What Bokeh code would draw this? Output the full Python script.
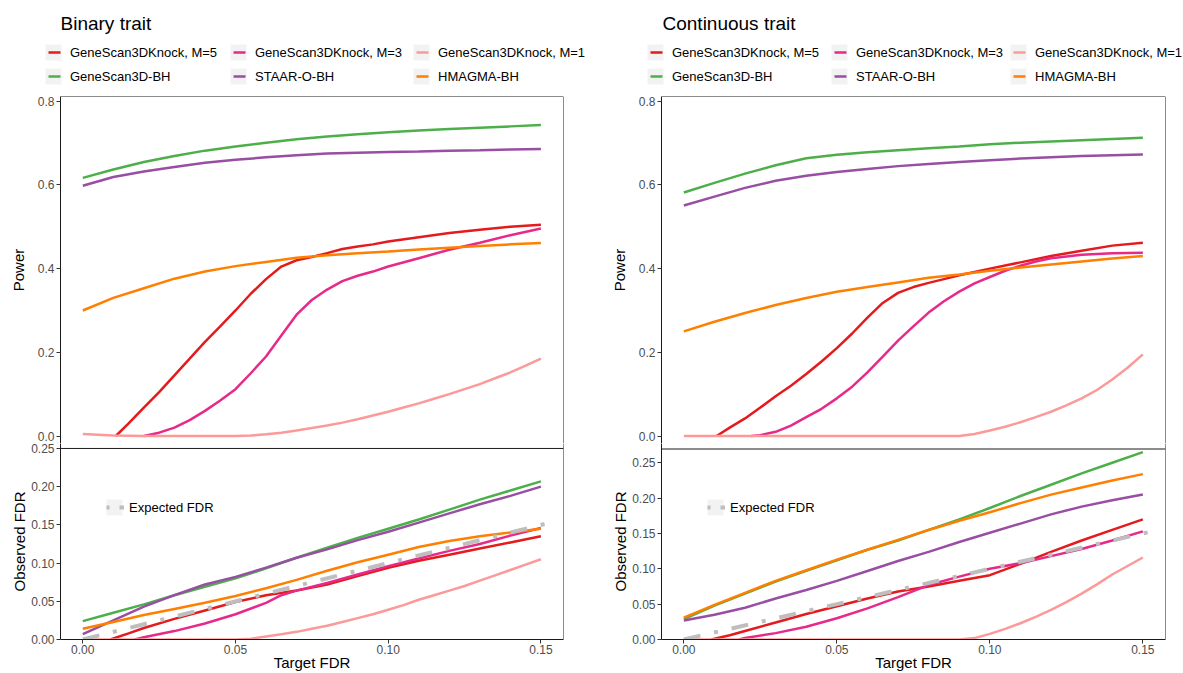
from bokeh.plotting import figure
from bokeh.layouts import row, column
from bokeh.models import (Range1d, Span, Legend, LegendItem, FixedTicker,
                          NumeralTickFormatter, Label)
from bokeh.core.properties import value
from bokeh.embed import file_html
from bokeh.resources import INLINE

FONT = "Liberation Sans"

# ---------------- data ----------------
fdr_grid = [0.00, 0.01, 0.02, 0.03, 0.04, 0.05, 0.06, 0.07, 0.08, 0.09, 0.10, 0.11, 0.12, 0.13, 0.14, 0.15]

# Binary trait: power
bin_pow_m5_x = [0.0108, 0.015, 0.02, 0.025, 0.03, 0.035, 0.04, 0.045, 0.05, 0.055, 0.06, 0.065, 0.07, 0.075,
                0.08, 0.085, 0.09, 0.095, 0.10, 0.11, 0.12, 0.13, 0.14, 0.15]
bin_pow_m5 = [0.0, 0.03, 0.068, 0.105, 0.145, 0.185, 0.225, 0.262, 0.300, 0.340, 0.375, 0.405, 0.420, 0.428,
              0.437, 0.447, 0.453, 0.458, 0.465, 0.475, 0.485, 0.493, 0.500, 0.505]
bin_pow_m3_x = [0.02, 0.025, 0.03, 0.035, 0.04, 0.045, 0.05, 0.055, 0.06, 0.065, 0.07, 0.075, 0.08, 0.085,
                0.09, 0.095, 0.10, 0.11, 0.12, 0.13, 0.14, 0.15]
bin_pow_m3 = [0.0, 0.008, 0.02, 0.038, 0.06, 0.085, 0.112, 0.15, 0.19, 0.24, 0.29, 0.325, 0.35, 0.37,
              0.383, 0.393, 0.405, 0.425, 0.445, 0.462, 0.48, 0.496]
bin_pow_m1_x = [0.0, 0.01, 0.02, 0.03, 0.04, 0.05, 0.055, 0.06, 0.065, 0.07, 0.075, 0.08, 0.085, 0.09, 0.095,
                0.10, 0.105, 0.11, 0.115, 0.12, 0.125, 0.13, 0.135, 0.14, 0.145, 0.15]
bin_pow_m1 = [0.005, 0.001, 0.0, 0.0, 0.0, 0.0, 0.001, 0.004, 0.008, 0.013, 0.019, 0.025, 0.032, 0.040, 0.049,
              0.058, 0.068, 0.078, 0.089, 0.100, 0.112, 0.124, 0.138, 0.152, 0.168, 0.185]
bin_pow_gs3d = [0.617, 0.637, 0.655, 0.669, 0.682, 0.692, 0.701, 0.709, 0.716, 0.721, 0.726, 0.730, 0.734, 0.737, 0.740, 0.743]
bin_pow_staar = [0.598, 0.619, 0.632, 0.643, 0.653, 0.660, 0.666, 0.671, 0.675, 0.677, 0.679, 0.680, 0.682, 0.683, 0.685, 0.686]
bin_pow_hmagma = [0.300, 0.330, 0.353, 0.376, 0.393, 0.406, 0.416, 0.426, 0.432, 0.437, 0.441, 0.446, 0.450, 0.454, 0.458, 0.461]

# Binary trait: observed FDR
bin_fdr_m5_x = [0.009, 0.015, 0.02, 0.03, 0.04, 0.05, 0.06, 0.07, 0.08, 0.09, 0.10, 0.11, 0.12, 0.13, 0.14, 0.15]
bin_fdr_m5 = [0.0, 0.008, 0.015, 0.027, 0.038, 0.049, 0.058, 0.064, 0.072, 0.083, 0.094, 0.103, 0.111, 0.119, 0.127, 0.135]
bin_fdr_m3_x = [0.017, 0.02, 0.03, 0.04, 0.05, 0.06, 0.065, 0.07, 0.08, 0.09, 0.10, 0.11, 0.12, 0.13, 0.14, 0.15]
bin_fdr_m3 = [0.0, 0.003, 0.011, 0.021, 0.033, 0.048, 0.058, 0.064, 0.074, 0.085, 0.096, 0.106, 0.116, 0.125, 0.136, 0.146]
bin_fdr_m1_x = [0.0, 0.05, 0.055, 0.06, 0.065, 0.07, 0.075, 0.08, 0.085, 0.09, 0.095, 0.10, 0.105, 0.11,
                0.115, 0.12, 0.125, 0.13, 0.135, 0.14, 0.145, 0.15]
bin_fdr_m1 = [0.0, 0.0, 0.001, 0.004, 0.007, 0.010, 0.014, 0.018, 0.023, 0.028, 0.033, 0.039, 0.045, 0.052,
              0.058, 0.064, 0.070, 0.077, 0.084, 0.091, 0.098, 0.105]
bin_fdr_gs3d = [0.024, 0.035, 0.046, 0.058, 0.069, 0.080, 0.093, 0.107, 0.120, 0.133, 0.145, 0.157, 0.170, 0.183, 0.195, 0.207]
bin_fdr_staar = [0.007, 0.025, 0.043, 0.058, 0.072, 0.082, 0.094, 0.107, 0.118, 0.130, 0.141, 0.153, 0.165, 0.177, 0.188, 0.200]
bin_fdr_hmagma = [0.014, 0.023, 0.032, 0.040, 0.048, 0.057, 0.067, 0.078, 0.090, 0.101, 0.111, 0.121, 0.129, 0.135, 0.140, 0.145]

# Continuous trait: power
con_pow_m5_x = [0.0107, 0.015, 0.02, 0.025, 0.03, 0.035, 0.04, 0.045, 0.05, 0.055, 0.06, 0.065, 0.07, 0.075,
                0.08, 0.085, 0.09, 0.095, 0.10, 0.11, 0.12, 0.13, 0.14, 0.15]
con_pow_m5 = [0.0, 0.02, 0.042, 0.068, 0.095, 0.12, 0.148, 0.178, 0.21, 0.245, 0.283, 0.318, 0.342, 0.356,
              0.366, 0.375, 0.384, 0.392, 0.400, 0.415, 0.430, 0.443, 0.455, 0.462]
con_pow_m3_x = [0.022, 0.025, 0.03, 0.035, 0.04, 0.045, 0.05, 0.055, 0.06, 0.065, 0.07, 0.075, 0.08, 0.085,
                0.09, 0.095, 0.10, 0.105, 0.11, 0.115, 0.12, 0.13, 0.14, 0.15]
con_pow_m3 = [0.0, 0.002, 0.01, 0.025, 0.045, 0.065, 0.09, 0.118, 0.152, 0.19, 0.228, 0.262, 0.295, 0.322,
              0.345, 0.365, 0.38, 0.395, 0.407, 0.417, 0.425, 0.433, 0.437, 0.438]
con_pow_m1_x = [0.0, 0.09, 0.095, 0.10, 0.105, 0.11, 0.115, 0.12, 0.125, 0.13, 0.135, 0.14, 0.145, 0.15]
con_pow_m1 = [0.0, 0.0, 0.005, 0.013, 0.022, 0.033, 0.045, 0.058, 0.073, 0.09, 0.11, 0.135, 0.163, 0.195]
con_pow_gs3d = [0.582, 0.605, 0.627, 0.647, 0.664, 0.672, 0.678, 0.683, 0.688, 0.692, 0.697, 0.701, 0.704, 0.707, 0.710, 0.713]
con_pow_staar = [0.551, 0.572, 0.593, 0.610, 0.622, 0.631, 0.638, 0.645, 0.650, 0.655, 0.659, 0.663, 0.666, 0.669, 0.671, 0.673]
con_pow_hmagma = [0.250, 0.273, 0.294, 0.313, 0.330, 0.345, 0.356, 0.367, 0.378, 0.386, 0.395, 0.403, 0.410, 0.417, 0.424, 0.430]

# Continuous trait: observed FDR
con_fdr_m5_x = [0.009, 0.015, 0.02, 0.03, 0.04, 0.05, 0.06, 0.07, 0.08, 0.09, 0.10, 0.11, 0.12, 0.13, 0.14, 0.15]
con_fdr_m5 = [0.0, 0.006, 0.012, 0.024, 0.036, 0.047, 0.058, 0.068, 0.075, 0.083, 0.091, 0.107, 0.124, 0.140, 0.155, 0.170]
con_fdr_m3_x = [0.018, 0.02, 0.03, 0.04, 0.05, 0.06, 0.07, 0.08, 0.09, 0.10, 0.11, 0.12, 0.13, 0.14, 0.15]
con_fdr_m3 = [0.0, 0.002, 0.009, 0.018, 0.030, 0.044, 0.060, 0.077, 0.089, 0.100, 0.108, 0.118, 0.128, 0.140, 0.153]
con_fdr_m1_x = [0.0, 0.09, 0.095, 0.10, 0.105, 0.11, 0.115, 0.12, 0.125, 0.13, 0.135, 0.14, 0.145, 0.15]
con_fdr_m1 = [0.0, 0.0, 0.002, 0.008, 0.015, 0.023, 0.032, 0.042, 0.053, 0.065, 0.078, 0.092, 0.104, 0.116]
con_fdr_gs3d = [0.029, 0.048, 0.065, 0.082, 0.097, 0.112, 0.127, 0.140, 0.155, 0.170, 0.186, 0.203, 0.219, 0.235, 0.250, 0.265]
con_fdr_staar = [0.027, 0.035, 0.045, 0.058, 0.070, 0.083, 0.097, 0.111, 0.124, 0.138, 0.151, 0.164, 0.177, 0.188, 0.197, 0.205]
con_fdr_hmagma = [0.031, 0.049, 0.066, 0.083, 0.098, 0.113, 0.127, 0.141, 0.155, 0.168, 0.180, 0.193, 0.205, 0.215, 0.225, 0.234]

# Expected FDR reference line (observed = target)
expected_x = [0.0, 0.155]
expected_y = [0.0, 0.155]

method_labels = ["GeneScan3DKnock, M=5", "GeneScan3DKnock, M=3", "GeneScan3DKnock, M=1",
                 "GeneScan3D-BH", "STAAR-O-BH", "HMAGMA-BH"]
method_colors = ["#E41A1C", "#E7298A", "#FB9A99", "#4DAF4A", "#984EA3", "#FF7F00"]
panel_titles = ["Binary trait", "Continuous trait"]

power_ticks = [0.0, 0.2, 0.4, 0.6, 0.8]
fdr_ticks = [0.0, 0.05, 0.10, 0.15, 0.20, 0.25]
target_ticks = [0.0, 0.05, 0.10, 0.15]

# ---------------- styling helpers ----------------
X_RANGE = (-0.0073, 0.1574)
POWER_RANGE = (-0.0179, 0.8114)
LINE_W = 2.5
BORDER = "#1A1A1A"
KEY_BG = "#F2F2F2"
PAGE_W = 1183
HEADER_H = 90


def style_axis(ax, label, ticks, fmt, label_standoff):
    ax.axis_label = label
    ax.axis_label_text_font = FONT
    ax.axis_label_text_font_size = "15px"
    ax.axis_label_text_font_style = "normal"
    ax.axis_label_text_color = "#000000"
    ax.axis_label_standoff = label_standoff
    ax.major_label_text_font = FONT
    ax.major_label_text_font_size = "12px"
    ax.major_label_text_color = "#4D4D4D"
    ax.major_label_standoff = 2
    ax.major_tick_out = 4
    ax.major_tick_in = 0
    ax.minor_tick_out = 0
    ax.minor_tick_in = 0
    ax.major_tick_line_color = "#333333"
    ax.axis_line_color = BORDER
    ax.ticker = FixedTicker(ticks=ticks)
    ax.formatter = NumeralTickFormatter(format=fmt)


def make_legend(fig, entries, vx, vy, standoff=7):
    # each key: light grey square with a short coloured stroke on top
    bg = fig.quad(left=[-1], right=[-1], top=[-1], bottom=[-1], fill_color=KEY_BG, line_color=None)
    items = []
    for label, color, width, dash in entries:
        proxy = fig.line(x=[-1, -1], y=[-1, -1], line_color=color, line_width=width, line_dash=dash)
        items.append(LegendItem(label=value(label), renderers=[bg, proxy]))
    leg = Legend(items=items, location=(vx, vy), orientation="vertical",
                 glyph_width=20, glyph_height=20, label_height=20, label_standoff=standoff,
                 spacing=4, padding=0, margin=0, border_line_color=None,
                 background_fill_alpha=0, label_text_font=FONT,
                 label_text_font_size="13px", label_text_color="#000000")
    fig.add_layout(leg)


def make_header():
    # strip across the page holding both panel titles and method legends
    head = figure(width=PAGE_W, height=HEADER_H, min_border=0,
                  x_range=Range1d(0, PAGE_W), y_range=Range1d(HEADER_H, 0),
                  x_axis_location=None, y_axis_location=None,
                  output_backend="svg", toolbar_location=None)
    head.outline_line_color = None
    head.grid.visible = False
    key_dash = "0 5 12 100"
    for title, tx, key_x in zip(panel_titles, [60, 662], [[43, 228, 411], [645, 829, 1008]]):
        head.add_layout(Label(x=tx, y=23, text=title, text_font=FONT, text_font_size="19px",
                              text_color="#000000", text_baseline="middle", text_align="left"))
        for (a, b), vx in zip([(0, 3), (1, 4), (2, 5)], key_x):
            make_legend(head, [(method_labels[a], method_colors[a], LINE_W, key_dash),
                               (method_labels[b], method_colors[b], LINE_W, key_dash)], vx, 4)
    return head


def make_panel(pow_series, fdr_series, fdr_end, fdr_div, frame_w, right_border):
    # ----- power (upper plot) -----
    top = figure(frame_width=frame_w, frame_height=347, min_border_left=60,
                 min_border_right=right_border, min_border_top=6, min_border_bottom=0,
                 x_range=Range1d(*X_RANGE), y_range=Range1d(*POWER_RANGE),
                 x_axis_location=None, output_backend="svg", toolbar_location=None)
    top.outline_line_color = None
    top.xgrid.visible = False
    top.ygrid.visible = False
    style_axis(top.yaxis[0], "Power", power_ticks, "0.0", 8)
    for (xs, ys), color in zip(pow_series, method_colors):
        top.line(xs, ys, line_color=color, line_width=LINE_W)
    top.add_layout(Span(location=X_RANGE[1], dimension="height", line_color=BORDER, line_width=1))
    top.add_layout(Span(location=POWER_RANGE[1], dimension="width", line_color=BORDER, line_width=1))

    # ----- observed FDR (lower plot) -----
    bot = figure(frame_width=frame_w, frame_height=196, min_border_left=60,
                 min_border_right=right_border, min_border_top=0, min_border_bottom=0,
                 x_range=Range1d(*X_RANGE), y_range=Range1d(0, fdr_end),
                 output_backend="svg", toolbar_location=None)
    bot.outline_line_color = None
    bot.xgrid.visible = False
    bot.ygrid.visible = False
    style_axis(bot.yaxis[0], "Observed FDR", fdr_ticks, "0.00", 0)
    style_axis(bot.xaxis[0], "Target FDR", target_ticks, "0.00", -3)
    bot.xaxis[0].major_label_standoff = 1
    for (xs, ys), color in zip(fdr_series, method_colors):
        bot.line(xs, ys, line_color=color, line_width=LINE_W)
    bot.line(expected_x, expected_y, line_color="#BEBEBE", line_width=4, line_dash="17 14 4 14")
    bot.add_layout(Span(location=X_RANGE[1], dimension="height", line_color=BORDER, line_width=1))
    bot.add_layout(Span(location=fdr_div, dimension="width", line_color=BORDER, line_width=1))
    make_legend(bot, [("Expected FDR", "#BEBEBE", 4, "0 2 3 10 5 100")], 44, 122, standoff=5)

    return column(top, bot, spacing=0)


bin_pow = [(bin_pow_m5_x, bin_pow_m5), (bin_pow_m3_x, bin_pow_m3), (bin_pow_m1_x, bin_pow_m1),
           (fdr_grid, bin_pow_gs3d), (fdr_grid, bin_pow_staar), (fdr_grid, bin_pow_hmagma)]
bin_fdr = [(bin_fdr_m5_x, bin_fdr_m5), (bin_fdr_m3_x, bin_fdr_m3), (bin_fdr_m1_x, bin_fdr_m1),
           (fdr_grid, bin_fdr_gs3d), (fdr_grid, bin_fdr_staar), (fdr_grid, bin_fdr_hmagma)]
con_pow = [(con_pow_m5_x, con_pow_m5), (con_pow_m3_x, con_pow_m3), (con_pow_m1_x, con_pow_m1),
           (fdr_grid, con_pow_gs3d), (fdr_grid, con_pow_staar), (fdr_grid, con_pow_hmagma)]
con_fdr = [(con_fdr_m5_x, con_fdr_m5), (con_fdr_m3_x, con_fdr_m3), (con_fdr_m1_x, con_fdr_m1),
           (fdr_grid, con_fdr_gs3d), (fdr_grid, con_fdr_staar), (fdr_grid, con_fdr_hmagma)]

left = make_panel(bin_pow, bin_fdr, 0.2565, 0.25, 503, 38)
right = make_panel(con_pow, con_fdr, 0.2773, 0.2695, 504, 18)
layout = column(make_header(), row(left, right, spacing=0), spacing=0)

with open("out.html", "w") as f:
    f.write(file_html(layout, INLINE))
